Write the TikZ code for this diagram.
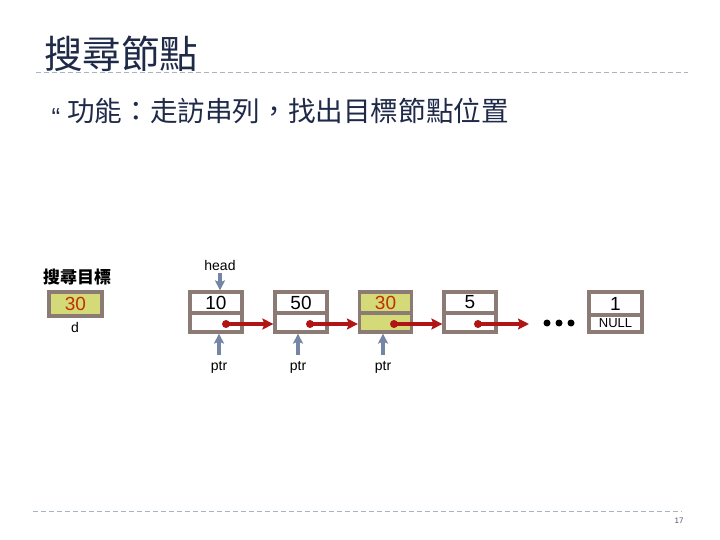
\documentclass[tikz,border=0pt]{standalone}
\usepackage{fontspec}
\setmainfont{Liberation Sans}
\newfontfamily\cjk{Noto Sans CJK TC}
\usetikzlibrary{arrows.meta}
\definecolor{navy}{HTML}{1F2A48}
\definecolor{boxb}{HTML}{8C7B75}
\definecolor{hilite}{HTML}{D4DA78}
\definecolor{redarr}{HTML}{B01414}
\definecolor{redtxt}{HTML}{C03000}
\definecolor{ptrc}{HTML}{7585A5}
\definecolor{dashc}{HTML}{A8B4C2}
\tikzset{
  cell/.style={draw=boxb, line width=3.2pt, minimum width=52pt, inner sep=0pt, font=\fontsize{19}{19}\selectfont},
  topcell/.style={cell, minimum height=21pt},
  botcell/.style={cell, minimum height=19pt},
  dotc/.style={circle, fill=redarr, inner sep=0pt, minimum size=8pt},
  link/.style={draw=redarr, line width=3.2pt, -{Stealth[length=11pt,width=11pt,inset=2pt]}},
  ptrarrow/.style={draw=ptrc, line width=3.2pt, -{Stealth[length=10pt,width=10pt,inset=2pt]}},
  lbl/.style={font=\fontsize{14}{14}\selectfont, inner sep=0pt},
  sep/.style={draw=dashc, line width=1pt, dash pattern=on 5pt off 3pt},
  ell/.style={circle, fill=black, inner sep=0pt, minimum size=7pt}
}
\begin{document}
\begin{tikzpicture}[x=1pt,y=-1pt]
\useasboundingbox (0,0) rectangle (720,540);
% title
\node[anchor=west, inner sep=0pt, text=navy, font=\cjk\fontsize{38.5}{38.5}\selectfont] (title) at (44,54) {搜尋節點};
\coordinate (ta) at (36,73); \coordinate (tb) at (688,73);
\draw[sep] (ta) -- (tb);
\coordinate (ba) at (33,511); \coordinate (bb) at (682,511);
\draw[sep] (ba) -- (bb);
% bullet
\node[inner sep=0pt, text=navy, font=\fontsize{26}{26}\selectfont] (bul) at (56,118) {“};
\node[anchor=west, inner sep=0pt, text=navy, font=\cjk\fontsize{27.6}{27.6}\selectfont] (sub) at (67,111) {功能：走訪串列，找出目標節點位置};
% search target
\node[inner sep=0pt, font=\cjk\bfseries\fontsize{17}{17}\selectfont] (tgtlbl) at (77,277) {搜尋目標};
\node[cell, fill=hilite, minimum width=53pt, minimum height=24pt, text=redtxt] (tgt) at (75.5,304) {30};
\node[lbl] (d) at (75,327) {d};
% list nodes
\node[topcell] (n1t) at (216,302.5) {10};
\node[botcell] (n1b) at (216,322.5) {};
\node[topcell] (n2t) at (301,302.5) {50};
\node[botcell] (n2b) at (301,322.5) {};
\node[topcell, fill=hilite, text=redtxt] (n3t) at (385.5,302.5) {30};
\node[botcell, fill=hilite] (n3b) at (385.5,322.5) {};
\node[topcell] (n4t) at (470,302.5) {5};
\node[botcell] (n4b) at (470,322.5) {};
\node[topcell, minimum width=53pt, minimum height=23pt] (n5t) at (615.5,303.5) {1};
\node[botcell, minimum width=53pt, minimum height=17pt, font=\fontsize{13}{13}\selectfont] (n5b) at (615.5,323.5) {NULL};
% dots in pointer cells
\node[dotc] (p1) at (226,324) {};
\node[dotc] (p2) at (310,324) {};
\node[dotc] (p3) at (394,324) {};
\node[dotc] (p4) at (478,324) {};
\coordinate (e4) at (529,324);
\draw[link] (p1.center) -- (n2b.west |- p1);
\draw[link] (p2.center) -- (n3b.west |- p2);
\draw[link] (p3.center) -- (n4b.west |- p3);
\draw[link] (p4.center) -- (e4);
% ellipsis
\node[ell] (el1) at (547,323) {};
\node[ell] (el2) at (559,323) {};
\node[ell] (el3) at (571,323) {};
% head
\node[lbl] (head) at (220,265) {head};
\coordinate (hs) at (220,273);
\draw[ptrarrow] (hs) -- (hs |- n1t.north);
% ptr labels
\node[lbl] (ptr1) at (219,367) {ptr};
\node[lbl] (ptr2) at (298,367) {ptr};
\node[lbl] (ptr3) at (383,367) {ptr};
\coordinate (s1) at (219,355);
\coordinate (s2) at (298,355);
\coordinate (s3) at (383,355);
\draw[ptrarrow] (s1) -- (s1 |- n1b.south);
\draw[ptrarrow] (s2) -- (s2 |- n2b.south);
\draw[ptrarrow] (s3) -- (s3 |- n3b.south);
% page number
\node[inner sep=0pt, text=navy!80, font=\fontsize{8}{8}\selectfont] (pg) at (679,521) {17};
\end{tikzpicture}
\end{document}
